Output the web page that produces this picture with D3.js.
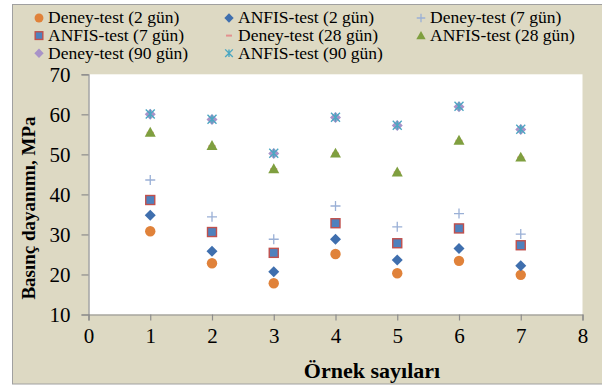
<!DOCTYPE html>
<html>
<head>
<meta charset="utf-8">
<script src="https://cdn.jsdelivr.net/npm/d3@7"></script>
<style>
  html, body { margin: 0; padding: 0; background: #ffffff; }
  svg { display: block; }
  text { font-family: "Liberation Serif", "Times New Roman", serif; fill: #000; }
</style>
</head>
<body>
<svg id="chart" width="602" height="386"></svg>
<script>
// Sample numbers on the x axis
const samples = [1, 2, 3, 4, 5, 6, 7];

// Compressive strength (MPa) per curing age: experiment vs. ANFIS
const deney2   = [30.8, 22.8, 17.8, 25.1, 20.3, 23.4, 19.9];
const anfis2   = [34.8, 25.8, 20.7, 28.8, 23.6, 26.5, 22.2];
const deney7   = [43.6, 34.4, 28.8, 37.1, 31.9, 35.2, 30.1];
const anfis7   = [38.6, 30.6, 25.4, 32.8, 27.8, 31.5, 27.3];
const deney28  = [55.4, 52.1, 46.3, 50.2, 45.5, 53.4, 49.2];
const anfis28  = [55.5, 52.2, 46.4, 50.3, 45.6, 53.5, 49.3];
const deney90  = [60.0, 58.7, 50.2, 59.2, 57.2, 61.9, 56.2];
const anfis90  = [60.1, 58.8, 50.3, 59.3, 57.3, 62.0, 56.3];

const seriesNames = [
  "Deney-test (2 gün)", "ANFIS-test (2 gün)", "Deney-test (7 gün)",
  "ANFIS-test (7 gün)", "Deney-test (28 gün)", "ANFIS-test (28 gün)",
  "Deney-test (90 gün)", "ANFIS-test (90 gün)"
];
const seriesValues = [deney2, anfis2, deney7, anfis7, deney28, anfis28, deney90, anfis90];

const xTicks = [0, 1, 2, 3, 4, 5, 6, 7, 8];
const yTicks = [10, 20, 30, 40, 50, 60, 70];

const xTitle = "Örnek sayıları";
const yTitle = "Basınç dayanımı, MPa";

// Marker look per series
const markerStyle = [
  { kind: "circle",   fill: "#e0823a", stroke: "none" },
  { kind: "diamond",  fill: "#3f6fae", stroke: "none" },
  { kind: "plus",     fill: "none",    stroke: "#9ab0d6" },
  { kind: "square",   fill: "#4f81bd", stroke: "#c0504d" },
  { kind: "dash",     fill: "none",    stroke: "#e3908e" },
  { kind: "triangle", fill: "#7f9f3f", stroke: "none" },
  { kind: "diamond2", fill: "#a893c8", stroke: "none" },
  { kind: "star",     fill: "none",    stroke: "#4ba7c2" }
];

const svg = d3.select("#chart");

// Chart background with thin border
svg.append("rect")
  .attr("x", 12.5).attr("y", 4.5)
  .attr("width", 602).attr("height", 379.5)
  .attr("fill", "#ddd9c3")
  .attr("stroke", "#a0a0a0").attr("stroke-width", 1);

const plot = { left: 88.5, right: 582.5, top: 74.3, bottom: 314.5 };

const x = d3.scaleLinear().domain([0, 8]).range([plot.left, plot.right]);
const y = d3.scaleLinear().domain([10, 70]).range([plot.bottom, plot.top]);

// Plot area
svg.append("rect")
  .attr("x", plot.left).attr("y", plot.top)
  .attr("width", plot.right - plot.left)
  .attr("height", plot.bottom - plot.top)
  .attr("fill", "#ffffff");

// Axes
const xAxis = svg.append("g")
  .attr("transform", `translate(0,${plot.bottom})`)
  .call(d3.axisBottom(x).tickValues(xTicks).tickFormat(d3.format("d")).tickSizeOuter(0).tickSize(6).tickPadding(8));
const yAxis = svg.append("g")
  .attr("transform", `translate(${plot.left},0)`)
  .call(d3.axisLeft(y).tickValues(yTicks).tickFormat(d3.format("d")).tickSizeOuter(0).tickSize(7).tickPadding(11));

[xAxis, yAxis].forEach(g => {
  g.select(".domain").attr("stroke", "#8c8c8c").attr("stroke-width", 1.2);
  g.selectAll(".tick line").attr("stroke", "#8c8c8c").attr("stroke-width", 1.2);
  g.selectAll(".tick text")
    .attr("font-family", "Liberation Serif, Times New Roman, serif")
    .attr("font-size", 21).attr("fill", "#000");
});
yAxis.selectAll(".tick text").attr("dy", "0.34em");

// Axis titles
svg.append("text")
  .attr("x", 372).attr("y", 378)
  .attr("text-anchor", "middle")
  .attr("font-size", 22).attr("font-weight", "bold")
  .text(xTitle);
svg.append("text")
  .attr("transform", "translate(35,208) rotate(-90)")
  .attr("text-anchor", "middle")
  .attr("font-size", 19).attr("font-weight", "bold")
  .text(yTitle);

// Draws one marker of the given style centered at (cx, cy)
function drawMarker(g, st, cx, cy, scale) {
  const s = scale || 1;
  switch (st.kind) {
    case "circle":
      g.append("circle").attr("cx", cx).attr("cy", cy).attr("r", 5.2 * s).attr("fill", st.fill);
      break;
    case "diamond":
    case "diamond2": {
      const r = 5.5 * s;
      g.append("path")
        .attr("d", `M${cx},${cy - r}L${cx + r},${cy}L${cx},${cy + r}L${cx - r},${cy}Z`)
        .attr("fill", st.fill);
      break;
    }
    case "plus": {
      const r = 5 * s;
      g.append("path")
        .attr("d", `M${cx - r},${cy}H${cx + r}M${cx},${cy - r}V${cy + r}`)
        .attr("stroke", st.stroke).attr("stroke-width", 1.3).attr("fill", "none");
      break;
    }
    case "square": {
      const r = 4.5 * s;
      g.append("rect")
        .attr("x", cx - r).attr("y", cy - r).attr("width", 2 * r).attr("height", 2 * r)
        .attr("fill", st.fill).attr("stroke", st.stroke).attr("stroke-width", 1.4);
      break;
    }
    case "dash": {
      const r = 3.5 * s;
      g.append("path")
        .attr("d", `M${cx - r},${cy}H${cx + r}`)
        .attr("stroke", st.stroke).attr("stroke-width", 2).attr("fill", "none");
      break;
    }
    case "triangle": {
      const r = 5.5 * s;
      g.append("path")
        .attr("d", `M${cx},${cy - r}L${cx + r},${cy + r * 0.8}L${cx - r},${cy + r * 0.8}Z`)
        .attr("fill", st.fill);
      break;
    }
    case "star": {
      const r = 4.5 * s;
      g.append("path")
        .attr("d", `M${cx - r},${cy - r}L${cx + r},${cy + r}M${cx - r},${cy + r}L${cx + r},${cy - r}M${cx},${cy - r}V${cy + r}`)
        .attr("stroke", st.stroke).attr("stroke-width", 1.4).attr("fill", "none");
      break;
    }
  }
}

// Data points
const marks = svg.append("g");
seriesValues.forEach((vals, si) => {
  const g = marks.append("g").attr("class", "series-" + si);
  vals.forEach((v, i) => drawMarker(g, markerStyle[si], x(samples[i]), y(v)));
});

// Legend: three columns, three rows
const legendCols = [39, 229, 421];
const legendRows = [18.0, 35.6, 53.2];
const legend = svg.append("g");
seriesNames.forEach((name, i) => {
  const col = i % 3, row = Math.floor(i / 3);
  const lx = legendCols[col], ly = legendRows[row];
  drawMarker(legend, markerStyle[i], lx, ly, 0.85);
  legend.append("text")
    .attr("x", lx + 9).attr("y", ly + 5.3)
    .attr("font-size", 17.5)
    .text(name);
});
</script>
</body>
</html>
